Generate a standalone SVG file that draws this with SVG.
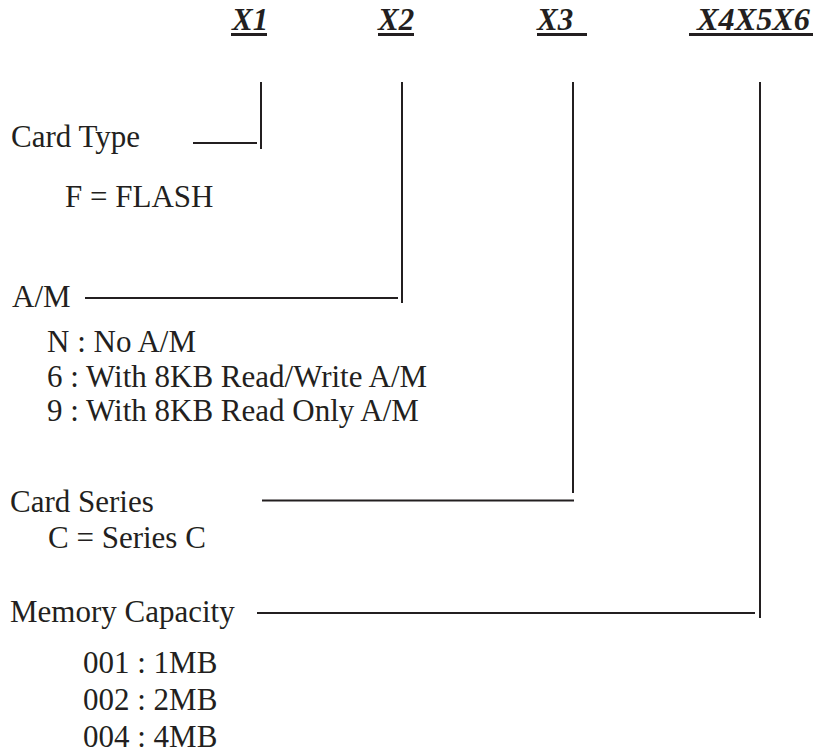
<svg xmlns="http://www.w3.org/2000/svg" width="814" height="755" viewBox="0 0 814 755">
<style>
  .t { font-family: "Liberation Serif", "Times New Roman", serif; font-size: 31px; fill: #231f20; }
  .h { font-family: "Liberation Serif", "Times New Roman", serif; font-size: 31px; font-weight: bold; font-style: italic; fill: #231f20; }
  .ul { stroke: #231f20; stroke-width: 3; fill: none; }
  .c { stroke: #231f20; stroke-width: 2; fill: none; }
</style>
<rect width="814" height="755" fill="#ffffff"/>
<g id="header-x1">
  <text class="h" x="232" y="30">X1</text>
  <line class="ul" x1="231" y1="34.5" x2="267" y2="34.5"/>
</g>
<g id="header-x2">
  <text class="h" x="378" y="30">X2</text>
  <line class="ul" x1="378" y1="34.5" x2="414" y2="34.5"/>
</g>
<g id="header-x3">
  <text class="h" x="537" y="30">X3</text>
  <line class="ul" x1="537" y1="34.5" x2="587" y2="34.5"/>
</g>
<g id="header-x4x5x6">
  <text class="h" x="697" y="30" textLength="113" lengthAdjust="spacingAndGlyphs">X4X5X6</text>
  <line class="ul" x1="689" y1="34.5" x2="813" y2="34.5"/>
</g>
<g id="card-type">
  <text class="t" x="11" y="147">Card Type</text>
  <text class="t" x="65" y="207">F = FLASH</text>
</g>
<g id="am">
  <text class="t" x="12" y="307">A/M</text>
  <text class="t" x="47" y="352">N : No A/M</text>
  <text class="t" x="47" y="387">6 : With 8KB Read/Write A/M</text>
  <text class="t" x="47" y="421">9 : With 8KB Read Only A/M</text>
</g>
<g id="card-series">
  <text class="t" x="10" y="512">Card Series</text>
  <text class="t" x="48" y="548">C = Series C</text>
</g>
<g id="memory-capacity">
  <text class="t" x="10" y="622">Memory Capacity</text>
  <text class="t" x="83" y="673">001 : 1MB</text>
  <text class="t" x="83" y="710">002 : 2MB</text>
  <text class="t" x="83" y="747">004 : 4MB</text>
</g>
<g id="connectors">
  <polyline class="c" points="261,82 261,149"/>
  <line class="c" x1="193" y1="143" x2="257" y2="143"/>
  <polyline class="c" points="402,82 402,303"/>
  <line class="c" x1="85" y1="298" x2="398" y2="298"/>
  <polyline class="c" points="573,82 573,493"/>
  <line class="c" x1="262" y1="500.5" x2="574" y2="500.5"/>
  <polyline class="c" points="760,82 760,618"/>
  <line class="c" x1="257" y1="613" x2="755" y2="613"/>
</g>
</svg>
